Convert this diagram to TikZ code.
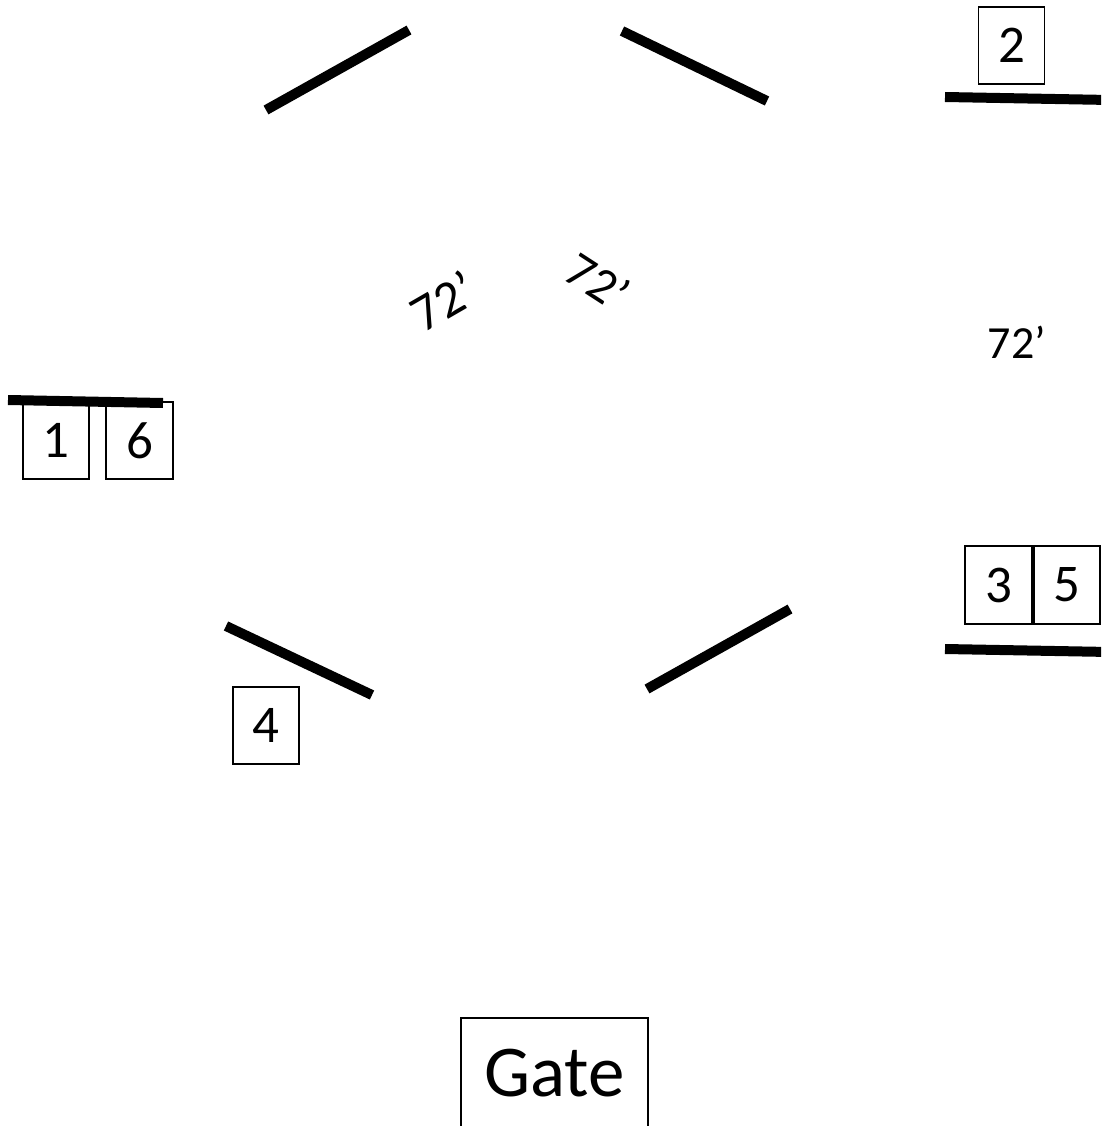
\documentclass[tikz,border=0pt]{standalone}
\usepackage{fontspec}
\setmainfont{Carlito}
\tikzset{
  wall/.style={line width=10pt},
  seat/.style={draw, line width=1.4pt, minimum width=66pt, minimum height=77pt, inner sep=0pt, font=\fontsize{53}{60}\selectfont},
  dim/.style={inner sep=0pt, font=\fontsize{46}{52}\selectfont}
}
\begin{document}
\begin{tikzpicture}[x=1pt,y=-1pt]
\useasboundingbox (0,0) rectangle (1101,1126);
\clip (0,0) rectangle (1101,1126);
% walls
\draw[wall] (266,110) -- (409,30);
\draw[wall] (622,31) -- (767,101);
\draw[wall] (945,97) -- (1110,100);
\draw[wall] (226,626) -- (372,695);
\draw[wall] (647,689) -- (790,609);
\draw[wall] (945,649) -- (1110,652);
% boxes
\node[seat] (s2) at (1011.5,45.5) {2};
\node[seat] (s1) at (56,440.5) {1};
\node[seat, minimum width=67pt] (s6) at (139.5,440.5) {6};
\draw[wall] (8,400) -- (163,403);
\node[seat, minimum width=67pt, minimum height=78pt] (s3) at (998.5,585) {3};
\node[seat, minimum height=78pt] (s5) at (1067,585) {5};
\node[seat] (s4) at (266,725.5) {4};
\node[draw, line width=1.4pt, minimum width=187pt, minimum height=110pt, inner sep=0pt, font=\fontsize{73}{80}\selectfont] (gate) at (554.5,1073) {Gate};
% dimensions
\node[dim, rotate=30, font=\fontsize{52}{58}\selectfont] (d1) at (443,301) {72’};
\node[dim, rotate=-33, font=\fontsize{50}{58}\selectfont] (d2) at (598,281) {72’};
\node[dim] (d3) at (1017,342) {72’};
\end{tikzpicture}
\end{document}
